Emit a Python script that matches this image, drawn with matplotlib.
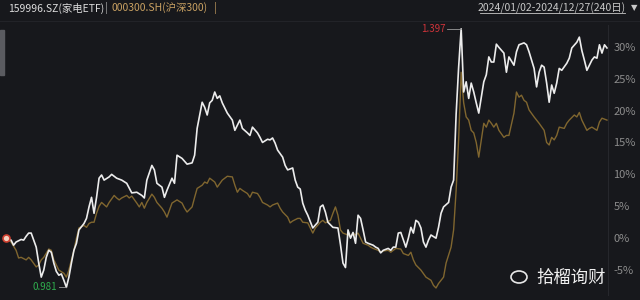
import matplotlib.pyplot as plt
from matplotlib.patches import Ellipse

plt.rcParams['font.family'] = ['Noto Sans CJK SC', 'DejaVu Sans']

# trading-day index (0 = 2024/01/02) and % change since the first day
etf_days = [0, 2, 3, 4, 6, 7, 8, 9, 10, 11, 12, 13, 14, 15, 16, 17, 18, 19, 20, 21,
            22, 23, 24, 25, 26, 27, 28, 29, 31, 32, 33, 34, 35, 36, 37, 38, 39, 41, 42, 44,
            46, 48, 50, 52, 54, 55, 56, 58, 59, 60, 62, 63, 64, 66, 67, 68, 70, 72, 74, 75,
            76, 78, 79, 80, 81, 82, 83, 84, 85, 86, 88, 90, 91, 93, 94, 96, 97, 98, 100, 101,
            102, 104, 105, 106, 107, 108, 110, 111, 112, 114, 115, 116, 117, 118, 119, 120, 122, 124, 125, 126,
            127, 128, 130, 132, 133, 134, 135, 136, 137, 138, 139, 140, 141, 142, 143, 144, 146, 147, 148, 149,
            150, 152, 153, 154, 155, 156, 157, 159, 160, 161, 162, 163, 164, 165, 166, 167, 168, 169, 171, 172,
            173, 174, 176, 177, 178, 179, 180, 181, 182, 183, 184, 185, 186, 187, 188, 189, 190, 191, 192, 193,
            194, 195, 196, 198, 199, 200, 202, 203, 204, 206, 207, 208, 210, 211, 212, 213, 214, 215, 216, 217,
            218, 219, 220, 221, 223, 224, 225, 227, 228, 229, 230, 231, 233, 234, 235, 236, 237, 238, 239]
etf_pct = [0.0, -0.3, -1.1, -0.6, -0.2, -0.3, 0.3, 0.8, 0.8, -0.3, -1.4, -3.9, -6.1, -5.0, -3.0, -1.9, -2.2, -3.9, -5.2, -5.8,
           -5.6, -6.6, -7.7, -6.1, -3.9, -1.9, -0.8, 1.3, 2.3, 3.1, 4.9, 6.4, 3.9, 6.4, 9.4, 9.9, 9.1, 9.6, 10.0, 9.4,
           9.1, 8.6, 7.1, 7.2, 6.7, 6.3, 9.1, 11.4, 10.7, 8.6, 8.0, 6.4, 7.5, 9.4, 8.6, 13.0, 12.5, 11.6, 11.8, 13.0,
           17.2, 21.3, 20.5, 19.3, 21.2, 21.6, 22.9, 21.9, 22.3, 21.2, 19.6, 18.5, 16.9, 18.5, 17.2, 16.5, 16.1, 17.4, 16.5, 15.8,
           15.0, 15.5, 15.4, 15.7, 14.9, 13.8, 12.7, 11.4, 10.7, 11.0, 9.1, 8.0, 7.7, 5.5, 4.4, 3.6, 1.6, 2.5, 4.9, 5.2,
           4.1, 2.5, 1.7, 1.6, -1.0, -3.9, -4.6, 1.3, 0.0, 0.9, -0.8, 3.6, 3.1, 1.3, -0.6, -0.8, -1.1, -1.4, -1.6, -2.3,
           -1.9, -1.6, -1.9, -1.4, -1.4, 0.8, 0.9, -1.4, 0.0, 1.7, 0.8, 2.8, 2.5, 1.6, -0.6, -1.4, -0.3, 0.5, 0.0, 1.7,
           3.9, 4.9, 5.6, 8.0, 9.1, 19.4, 26.8, 32.8, 22.9, 24.5, 21.9, 24.3, 22.9, 21.2, 19.6, 22.1, 24.5, 25.6, 28.4, 27.6,
           27.6, 30.4, 29.9, 29.0, 26.0, 28.4, 27.1, 29.2, 30.3, 30.6, 30.3, 29.2, 26.6, 23.7, 26.0, 27.1, 26.8, 24.3, 21.3, 24.0,
           22.7, 24.3, 26.6, 26.3, 27.4, 28.2, 29.8, 30.7, 31.5, 29.4, 27.9, 26.3, 27.9, 28.4, 28.2, 30.3, 29.0, 30.3, 29.8]

hs300_days = [0, 2, 4, 5, 6, 8, 9, 10, 12, 13, 14, 15, 17, 18, 19, 20, 21, 23, 24, 25,
              26, 27, 28, 29, 31, 32, 33, 34, 35, 36, 37, 38, 40, 41, 43, 44, 45, 46, 48, 49,
              50, 52, 53, 54, 55, 56, 58, 59, 60, 62, 63, 64, 65, 66, 68, 70, 71, 72, 74, 75,
              76, 78, 79, 80, 81, 82, 83, 84, 86, 87, 88, 90, 91, 92, 93, 94, 96, 97, 98, 100,
              101, 102, 104, 105, 106, 108, 109, 110, 112, 113, 114, 116, 117, 118, 120, 121, 122, 123, 125, 126,
              127, 129, 130, 131, 132, 133, 134, 136, 137, 138, 139, 140, 141, 142, 144, 145, 146, 148, 149, 150,
              152, 153, 154, 155, 157, 158, 160, 161, 162, 163, 165, 167, 169, 170, 171, 172, 174, 175, 177, 178,
              179, 180, 181, 182, 183, 184, 185, 186, 187, 188, 189, 190, 191, 192, 193, 194, 195, 196, 198, 199,
              200, 202, 203, 204, 205, 206, 207, 208, 210, 211, 212, 214, 215, 216, 217, 218, 219, 220, 222, 223,
              224, 226, 227, 228, 229, 231, 232, 233, 235, 236, 237, 239]
hs300_pct = [0.0, -0.6, -1.9, -3.1, -3.0, -3.4, -3.0, -3.4, -4.5, -4.2, -3.4, -3.0, -1.7, -1.9, -3.4, -4.2, -5.0, -5.5, -6.1, -5.0,
             -3.4, -1.9, 0.0, 1.6, 2.0, 1.7, 2.3, 2.5, 2.5, 3.9, 5.0, 5.6, 4.9, 5.6, 6.7, 6.3, 6.0, 6.3, 6.7, 6.3,
             6.6, 5.5, 4.9, 5.6, 4.7, 5.6, 6.9, 6.4, 5.6, 4.7, 4.1, 3.3, 4.4, 5.5, 6.0, 5.5, 4.7, 4.1, 4.9, 6.4,
             7.8, 8.3, 8.8, 8.6, 9.4, 9.1, 8.8, 8.0, 9.1, 9.4, 9.7, 9.6, 8.3, 7.2, 7.8, 7.5, 7.0, 6.4, 7.2, 7.0,
             6.4, 5.6, 5.2, 4.9, 5.2, 5.5, 4.7, 4.1, 3.3, 2.4, 2.7, 3.1, 3.1, 2.5, 2.4, 1.6, 0.8, 1.6, 2.5, 2.8,
             2.4, 2.8, 3.9, 4.9, 3.6, 1.3, 0.8, 0.5, 0.2, 0.8, 0.5, 0.8, 0.0, -0.8, -1.1, -1.4, -1.6, -1.9, -2.2, -2.0,
             -1.9, -2.2, -1.9, -1.6, -1.7, -2.4, -2.7, -2.2, -3.4, -4.2, -5.0, -6.1, -6.6, -7.4, -7.8, -7.1, -6.1, -3.9, -1.4, 1.3,
             7.5, 15.5, 26.0, 21.2, 19.0, 18.5, 16.9, 16.5, 15.0, 12.7, 15.4, 18.0, 17.4, 18.5, 18.0, 17.4, 18.0, 16.9, 15.8, 16.1,
             16.1, 19.6, 22.9, 22.1, 22.4, 21.6, 21.3, 20.1, 19.0, 18.5, 18.0, 16.9, 15.0, 14.6, 15.8, 15.4, 16.1, 17.4, 17.2, 18.0,
             18.5, 19.3, 19.0, 19.7, 18.5, 16.9, 17.2, 17.4, 16.9, 18.2, 18.8, 18.5]

yticks = [30, 25, 20, 15, 10, 5, 0, -5]
etf_name = '159996.SZ(家电ETF)'
idx_name = '000300.SH(沪深300)'
date_range = '2024/01/02-2024/12/27(240日)'
etf_hi, etf_lo = '1.397', '0.981'

bg = '#17181c'
fig = plt.figure(figsize=(6.4, 3.0), dpi=100, facecolor=bg)
ax = fig.add_axes([0, 5 / 300, 608 / 640, 270 / 300], facecolor=bg)

ax.plot(hs300_days, hs300_pct, color='#80662f', lw=1.0)
ax.plot(etf_days, etf_pct, color='#ececec', lw=1.2)
ax.plot([0], [0], 'o', ms=5, mfc='#f2d0c0', mec='#d04030', mew=1.2)

ax.set_xlim(-2.4, 239.4)
ax.set_ylim(-8.9, 33.4)
ax.yaxis.tick_right()
ax.set_yticks(yticks)
ax.set_yticklabels([f'{t}%' for t in yticks])
ax.tick_params(axis='y', length=0, pad=4, labelsize=8, labelcolor='#8c8c8c')
ax.set_xticks([])
for side in ['top', 'left', 'bottom']:
    ax.spines[side].set_visible(False)
ax.spines['right'].set_color('#26272c')

# high / low labels of the ETF
i_hi = etf_pct.index(max(etf_pct))
i_lo = etf_pct.index(min(etf_pct))
ax.plot([etf_days[i_hi] - 5.5, etf_days[i_hi]], [etf_pct[i_hi]] * 2, color='#9a9a9a', lw=0.6)
ax.text(etf_days[i_hi] - 6, etf_pct[i_hi], etf_hi, color='#d0343a', fontsize=7,
        ha='right', va='center')
ax.plot([etf_days[i_lo] - 3, etf_days[i_lo]], [etf_pct[i_lo]] * 2, color='#9a9a9a', lw=0.6)
ax.text(etf_days[i_lo] - 3.5, etf_pct[i_lo], etf_lo, color='#2fae4e', fontsize=7,
        ha='right', va='center')

# header
fig.add_artist(plt.Line2D([0, 1], [1 - 21 / 300] * 2, color='#222328', lw=0.8))
fig.text(8 / 640, 1 - 8 / 300, etf_name, color='#dcdcdc', fontsize=7.5, va='center')
fig.text(105 / 640, 1 - 8 / 300, '|', color='#b0b0b0', fontsize=7.5, va='center')
fig.text(112 / 640, 1 - 8 / 300, idx_name, color='#c9a162', fontsize=7.5, va='center')
fig.text(214 / 640, 1 - 8 / 300, '|', color='#c9a162', fontsize=7.5, va='center')
fig.text(626 / 640, 1 - 8 / 300, date_range, color='#c8c8c8', fontsize=7.5,
         va='center', ha='right')
fig.text(637 / 640, 1 - 8 / 300, '▼', color='#c8c8c8', fontsize=6, va='center', ha='right',
         family='DejaVu Sans')
fig.add_artist(plt.Line2D([480 / 640, 625 / 640], [1 - 13 / 300] * 2, color='#c8c8c8', lw=0.6))

# left sidebar strip
fig.add_artist(plt.Rectangle((0, 1 - 75 / 300), 4 / 640, 45 / 300, color='#5a5b60'))

# watermark
fig.add_artist(Ellipse((519 / 640, 1 - 277 / 300), 16 / 640, 12 / 300, fill=False,
                       ec='#e8e8e8', lw=1.2))
fig.text(536 / 640, 1 - 278 / 300, '拾榴询财', color='#f0f0f0', fontsize=12.5, va='center')

fig.savefig('out.png', dpi=100, facecolor=bg)
